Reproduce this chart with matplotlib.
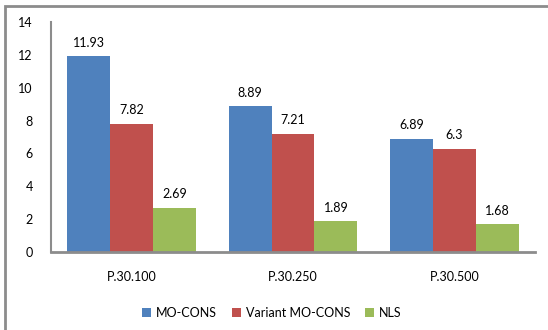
import numpy as np
import matplotlib.pyplot as plt
from matplotlib.patches import Rectangle

categories = ['P.30.100', 'P.30.250', 'P.30.500']
series_names = ['MO-CONS', 'Variant MO-CONS', 'NLS']
mo_cons = [11.93, 8.89, 6.89]
variant_mo_cons = [7.82, 7.21, 6.3]
nls = [2.69, 1.89, 1.68]
label_text = [['11.93', '8.89', '6.89'], ['7.82', '7.21', '6.3'], ['2.69', '1.89', '1.68']]
colors = ['#4F81BD', '#C0504D', '#9BBB59']

plt.rcParams['font.family'] = ['Lato', 'DejaVu Sans']

fig = plt.figure(figsize=(5.48, 3.30), dpi=100)
ax = fig.add_axes([51/548, 1-252/330, 484/548, 230/330])

# outer chart frame (runs off the right and bottom edges)
fig.patches.append(Rectangle((5/548, -0.05), 1.1, 1-6/330+0.05, transform=fig.transFigure,
                             fill=False, edgecolor='#8c8c8c', linewidth=2.0))

x = np.arange(len(categories))
w = 0.266
for i, (vals, c) in enumerate(zip([mo_cons, variant_mo_cons, nls], colors)):
    pos = x + (i - 1) * w
    ax.bar(pos, vals, width=w, color=c, label=series_names[i])
    for p, v, t in zip(pos, vals, label_text[i]):
        ax.text(p, v + 0.45, t, ha='center', va='bottom', fontsize=9, color='#000000')

ax.set_xlim(-0.5, 2.5)
ax.set_ylim(0, 14)
ax.set_yticks(range(0, 15, 2))
ax.set_xticks(x)
ax.set_xticklabels(categories)
ax.tick_params(axis='y', length=0, pad=13, labelsize=9)
ax.tick_params(axis='x', length=0, pad=14, labelsize=9)
for s in ['top', 'right']:
    ax.spines[s].set_visible(False)
ax.spines['left'].set_color('#8c8c8c')
ax.spines['bottom'].set_color('#8c8c8c')
ax.spines['left'].set_linewidth(1.5)
ax.spines['bottom'].set_linewidth(2.0)

fig.legend(loc='center', bbox_to_anchor=(272/548, 1-313/330), ncol=3, frameon=False,
           fontsize=9, handlelength=0.7, handleheight=0.7, handletextpad=0.4, columnspacing=1.2)

fig.savefig('out.png', dpi=100)
